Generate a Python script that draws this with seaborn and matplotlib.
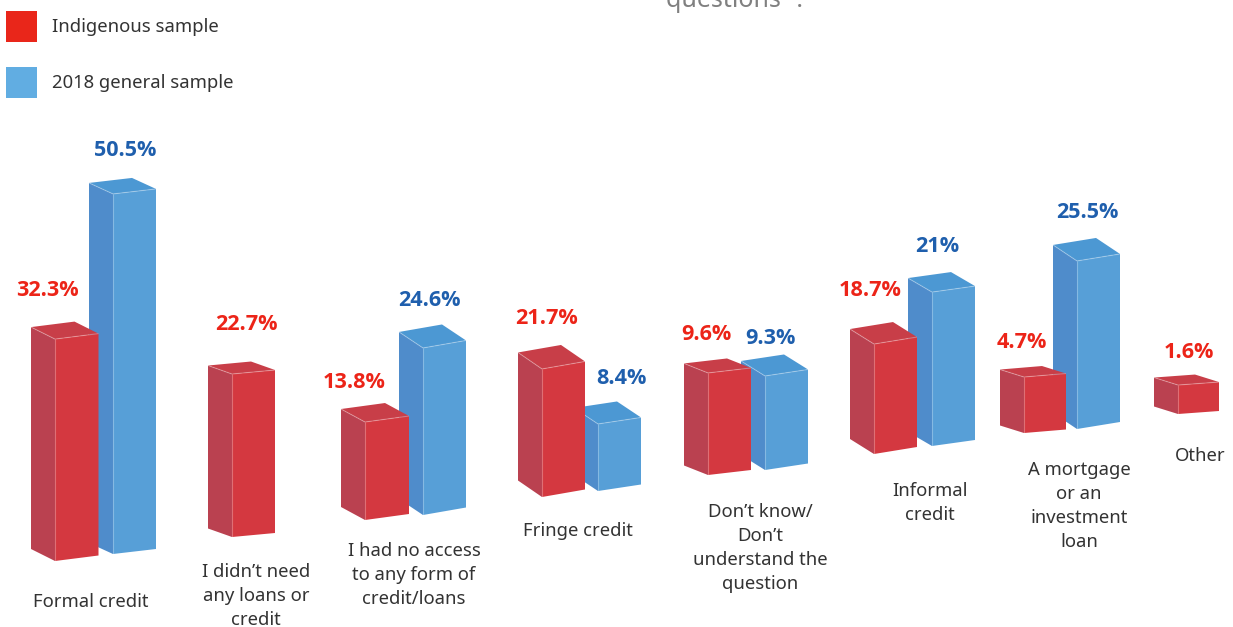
import math
import matplotlib
matplotlib.use("Agg")
import matplotlib.pyplot as plt
from matplotlib.patches import Patch, Polygon
from matplotlib.transforms import Affine2D
import numpy as np
import pandas as pd
import seaborn as sns

# ---- data ----
categories = ["Formal credit", "I didn\u2019t need\nany loans or\ncredit",
              "I had no access\nto any form of\ncredit/loans", "Fringe credit",
              "Don\u2019t know/\nDon\u2019t\nunderstand the\nquestion",
              "Informal\ncredit", "A mortgage\nor an\ninvestment\nloan", "Other"]
indigenous = [32.3, 22.7, 13.8, 21.7, 9.6, 18.7, 4.7, 1.6]
general = [50.5, np.nan, 24.6, 8.4, 9.3, 21.0, 25.5, np.nan]
value_labels_ind = ["32.3%", "22.7%", "13.8%", "21.7%", "9.6%", "18.7%", "4.7%", "1.6%"]
value_labels_gen = ["50.5%", "", "24.6%", "8.4%", "9.3%", "21%", "25.5%", ""]
series_names = ["Indigenous sample", "2018 general sample"]

# ---- layout of the perspective drawing (pixels; one entry per group) ----
# the source drawing's bars are not on one common scale: px_per_pct is per bar
ind_px_per_pct = [6.87, 7.18, 7.10, 5.90, 10.63, 5.88, 11.91, 18.1]
gen_px_per_pct = [7.13, 0, 6.79, 7.98, 10.11, 7.33, 6.59, 0]
ind_left = [55, 232, 365, 542, 708, 874, 1024, 1178]
gen_left = [113, 0, 423, 598, 765, 932, 1077, 0]
ind_width = [43.5, 43, 44, 43, 43, 43, 42, 41]
gen_width = [43, 0, 43, 43, 43, 43, 43, 0]
ind_base = [561, 537, 520, 497, 475, 454, 433, 414]
gen_base = [554, 0, 515, 491, 470, 446, 429, 0]
ind_rise = [5.5, 4, 6, 7.5, 5, 7, 3.5, 3]
gen_rise = [5, 0, 7.5, 6.5, 6.5, 6, 7, 0]
ind_depth_y = [12, 8.5, 13, 16.5, 9.5, 15, 7.5, 7.5]
gen_depth_y = [11, 0, 16, 16, 15, 14, 16, 0]
depth_x = 24
ind_label_xy = [(47, 290), (246, 325), (354, 383), (547, 319), (706, 334), (870, 290), (1022, 342), (1189, 352)]
gen_label_xy = [(125, 151), (0, 0), (429, 300), (621, 378), (770, 338), (937, 246), (1087, 212), (0, 0)]
cat_x = [91, 256, 414, 578, 760, 930, 1079, 1200]
cat_first_y = [602, 572, 551, 531, 512, 491, 470, 456]
line_step = 24

RED = dict(front="#D43840", side="#BA4150", top="#C83E48", legend="#E9261A", text="#EC2418")
BLUE = dict(front="#579FD7", side="#4F8CCB", top="#4C98D3", legend="#61ADE2", text="#1F5FAD")

sns.set_theme(style="white")
plt.rcParams["font.family"] = ["Noto Sans", "DejaVu Sans"]

fig, ax = plt.subplots(figsize=(12.33, 6.27), dpi=100)
ax.set_position([0, 0, 1, 1])

# table of drawn bars, one slot per bar
rows = []
for g, (vi, vg) in enumerate(zip(indigenous, general)):
    rows.append(dict(slot=2 * g, sample=series_names[0], value=vi, height=vi * ind_px_per_pct[g], group=g))
    if not np.isnan(vg):
        rows.append(dict(slot=2 * g + 1, sample=series_names[1], value=vg, height=vg * gen_px_per_pct[g], group=g))
df = pd.DataFrame(rows)

sns.barplot(data=df, x="slot", y="height", hue="sample", order=sorted(df.slot), dodge=False,
            palette={series_names[0]: RED["front"], series_names[1]: BLUE["front"]},
            saturation=1, legend=False, errorbar=None, ax=ax)

slots = sorted(df.slot)
def place(patch, left, width, base, rise, depth_y, colors, z):
    h = patch.get_height()
    patch.set_bounds(left, base - h, width, h)
    s = -rise / width
    patch.set_transform(Affine2D().translate(-left, -base).skew(0, math.atan(s)).translate(left, base) + ax.transData)
    patch.set_zorder(z + 0.2)
    patch.set_linewidth(0)
    top_l, top_r = base - h, base - h - rise
    bot_l = base
    side = [(left, top_l), (left - depth_x, top_l - depth_y), (left - depth_x, bot_l - depth_y), (left, bot_l)]
    top = [(left, top_l), (left - depth_x, top_l - depth_y), (left + width - depth_x, top_r - depth_y), (left + width, top_r)]
    ax.add_patch(Polygon(side, closed=True, fc=colors["side"], ec="none", zorder=z))
    ax.add_patch(Polygon(top, closed=True, fc=colors["top"], ec="none", zorder=z + 0.1))
    hl = dict(color="white", alpha=0.28, lw=0.8, zorder=z + 0.3, solid_capstyle="butt")
    ax.plot([left, left], [top_l, bot_l], **hl)
    ax.plot([left - depth_x, left, left + width], [top_l - depth_y, top_l, top_r], **hl)

for cont in ax.containers:
    for patch in cont.patches:
        if patch.get_height() != patch.get_height() or patch.get_width() == 0:
            continue
        slot = slots[int(round(patch.get_x() + patch.get_width() / 2))]
        g, second = divmod(slot, 2)
        if second == 0:
            place(patch, ind_left[g], ind_width[g], ind_base[g], ind_rise[g], ind_depth_y[g], RED, 4)
        else:
            place(patch, gen_left[g], gen_width[g], gen_base[g], gen_rise[g], gen_depth_y[g], BLUE, 2)

ax.set_xlim(0, 1233)
ax.set_ylim(627, 0)
ax.set_xticks([])
ax.set_yticks([])
ax.set_xlabel("")
ax.set_ylabel("")
sns.despine(ax=ax, left=True, bottom=True)

# value labels
bold = dict(family=["Open Sans", "DejaVu Sans"], fontsize=15.6, fontweight="bold", ha="center", va="center", zorder=8)
for lab, (x, y) in zip(value_labels_ind, ind_label_xy):
    ax.text(x, y, lab, color=RED["text"], **bold)
for lab, (x, y) in zip(value_labels_gen, gen_label_xy):
    if lab:
        ax.text(x, y, lab, color=BLUE["text"], **bold)

# category labels
for cat, x, y in zip(categories, cat_x, cat_first_y):
    for i, line in enumerate(cat.split("\n")):
        ax.text(x, y + i * line_step, line, color="#333333", fontsize=13.3, ha="center", va="center", zorder=8)

# legend
handles = [Patch(fc=RED["legend"], ec="none", label=series_names[0]),
           Patch(fc=BLUE["legend"], ec="none", label=series_names[1])]
ax.legend(handles=handles, loc="upper left", bbox_to_anchor=(6, 11), bbox_transform=ax.transData,
          frameon=False, fontsize=13.3, handlelength=1.68, handleheight=2.2, labelspacing=1.35,
          handletextpad=0.8, borderpad=0, borderaxespad=0, labelcolor="#333333")

# title fragment cut by the top of the picture
ax.text(734, 7, "questions\u201d .", color="#808080", fontsize=18, ha="center", va="baseline", clip_on=False)

fig.savefig("out.png", dpi=100)
